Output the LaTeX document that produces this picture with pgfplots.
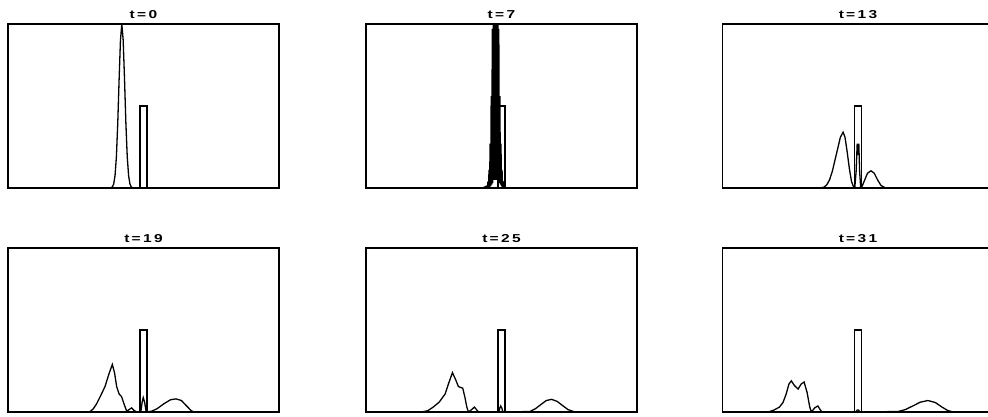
\documentclass[border=0pt]{standalone}
\usepackage{fontspec}
\setmainfont{Liberation Sans}
\usepackage{graphicx}
\usepackage{pgfplots}
\pgfplotsset{compat=1.18}

% title text: bold, wide, letter spaced
\newcommand\ttl[1]{\scalebox{1.35}[1]{\addfontfeature{LetterSpace=15}\bfseries #1}}

\pgfplotsset{
  panel/.style={
    scale only axis, width=271pt, height=164pt,
    xmin=0, xmax=1, ymin=0, ymax=1,
    ticks=none, anchor=south west,
    axis line style={line width=1.1pt},
    title style={font=\fontsize{11.5}{11.5}\selectfont, yshift=-4pt},
    cycle list={{black, no markers}},
    every axis plot post/.append style={black, line width=1.3pt},
  },
}

\begin{document}
\begin{tikzpicture}

% t=0
\begin{axis}[panel, at={(8pt,228pt)}, title={\ttl{t=0}}]
\addplot coordinates {(0,0)(0.37,0)(0.38,0.0014)(0.385,0.006)(0.39,0.024)(0.395,0.076)
 (0.40,0.191)(0.405,0.395)(0.41,0.662)(0.415,0.902)(0.42,1)(0.425,0.902)(0.43,0.662)
 (0.435,0.395)(0.44,0.191)(0.445,0.076)(0.45,0.024)(0.455,0.006)(0.46,0.0014)(0.47,0)(1,0)};
\addplot coordinates {(0.487,0)(0.487,0.5)(0.513,0.5)(0.513,0)};
\end{axis}

% t=7
\begin{axis}[panel, at={(366pt,228pt)}, title={\ttl{t=7}}]
\addplot coordinates {(0,0)(0.43,0)(0.446,0.012)(0.448,0)(0.450,0.04)(0.452,0.002)
 (0.454,0.11)(0.456,0.005)(0.458,0.27)(0.460,0.01)(0.462,0.56)(0.464,0.02)(0.466,0.97)
 (0.468,0.03)(0.470,1.45)(0.472,0.05)(0.474,1.85)(0.476,0.05)(0.478,2)(0.480,0.05)
 (0.482,1.85)(0.484,0.05)(0.486,1.45)(0.488,0.04)(0.490,0.97)(0.492,0.03)(0.494,0.56)
 (0.496,0.02)(0.498,0.27)(0.500,0.01)(0.502,0.11)(0.504,0.005)(0.506,0.04)(0.508,0)
 (0.510,0.012)(0.512,0)(0.53,0)(1,0)};
\addplot coordinates {(0.487,0)(0.487,0.5)(0.513,0.5)(0.513,0)};
\end{axis}

% t=13
\begin{axis}[panel, at={(722.5pt,228pt)}, title={\ttl{t=13}}]
\addplot coordinates {(0,0)(0.36,0)(0.375,0.005)(0.385,0.02)(0.395,0.05)(0.405,0.1)
 (0.415,0.17)(0.425,0.24)(0.435,0.31)(0.445,0.34)(0.452,0.31)(0.46,0.22)(0.468,0.12)
 (0.476,0.04)(0.484,0.005)(0.488,0)(0.493,0.1)(0.497,0.27)(0.500,0.2)(0.503,0.27)
 (0.506,0.1)(0.510,0)(0.515,0.01)(0.525,0.05)(0.535,0.09)(0.548,0.105)(0.56,0.09)
 (0.572,0.05)(0.585,0.015)(0.60,0.002)(0.62,0)(1,0)};
\addplot coordinates {(0.487,0)(0.487,0.5)(0.513,0.5)(0.513,0)};
\end{axis}

% t=19
\begin{axis}[panel, at={(8pt,4pt)}, title={\ttl{t=19}}]
\addplot coordinates {(0,0)(0.29,0)(0.303,0.003)(0.315,0.02)(0.327,0.05)(0.342,0.1)
 (0.358,0.155)(0.372,0.23)(0.385,0.29)(0.393,0.24)(0.401,0.155)(0.41,0.11)(0.419,0.094)
 (0.428,0.05)(0.438,0.005)(0.447,0.015)(0.456,0.025)(0.465,0.01)(0.475,0)(0.49,0)
 (0.495,0.06)(0.499,0.088)(0.504,0.06)(0.51,0)(0.53,0.005)(0.55,0.02)(0.575,0.05)
 (0.60,0.075)(0.62,0.08)(0.64,0.07)(0.66,0.035)(0.675,0.01)(0.685,0)(1,0)};
\addplot coordinates {(0.487,0)(0.487,0.5)(0.513,0.5)(0.513,0)};
\end{axis}

% t=25
\begin{axis}[panel, at={(366pt,4pt)}, title={\ttl{t=25}}]
\addplot coordinates {(0,0)(0.205,0)(0.228,0.008)(0.248,0.03)(0.27,0.06)(0.292,0.11)
 (0.306,0.18)(0.319,0.24)(0.33,0.2)(0.341,0.155)(0.349,0.15)(0.357,0.145)(0.365,0.09)
 (0.372,0.03)(0.378,0)(0.39,0.015)(0.40,0.03)(0.41,0.01)(0.415,0)(0.49,0)(0.494,0.025)
 (0.497,0.037)(0.501,0.025)(0.505,0)(0.605,0.003)(0.625,0.02)(0.645,0.045)(0.665,0.07)
 (0.685,0.077)(0.705,0.065)(0.725,0.04)(0.745,0.015)(0.771,0)(1,0)};
\addplot coordinates {(0.487,0)(0.487,0.5)(0.513,0.5)(0.513,0)};
\end{axis}

% t=31
\begin{axis}[panel, at={(722.5pt,4pt)}, title={\ttl{t=31}}]
\addplot coordinates {(0,0)(0.168,0)(0.19,0.012)(0.21,0.03)(0.223,0.057)(0.235,0.11)
 (0.245,0.17)(0.254,0.19)(0.266,0.16)(0.279,0.14)(0.29,0.17)(0.301,0.183)(0.312,0.12)
 (0.322,0.03)(0.328,0)(0.34,0.025)(0.352,0.037)(0.36,0.015)(0.367,0)(0.492,0)
 (0.497,0.012)(0.502,0.012)(0.507,0)(0.648,0.003)(0.675,0.015)(0.70,0.035)(0.73,0.06)
 (0.758,0.07)(0.785,0.058)(0.81,0.03)(0.83,0.01)(0.85,0)(1,0)};
\addplot coordinates {(0.487,0)(0.487,0.5)(0.513,0.5)(0.513,0)};
\end{axis}

\pgfresetboundingbox
\path[use as bounding box] (0pt,0pt) rectangle (988pt,416pt);
\end{tikzpicture}
\end{document}
